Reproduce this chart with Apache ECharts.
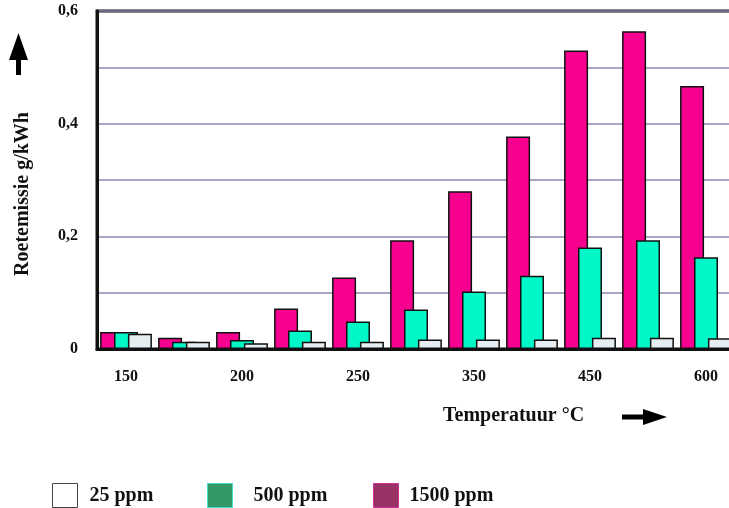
<!DOCTYPE html>
<html>
<head>
<meta charset="utf-8">
<script src="https://cdn.jsdelivr.net/npm/echarts@6/dist/echarts.min.js"></script>
<style>html,body{margin:0;padding:0;background:#fff}#c{width:729px;height:508px}</style>
</head>
<body>
<div id="c"></div>
<script>
// Data
const categories = ['150', '', '200', '', '250', '', '350', '', '450', '', '600'];
const ppm1500 = [0.030, 0.020, 0.030, 0.072, 0.127, 0.193, 0.280, 0.377, 0.530, 0.564, 0.467];
const ppm500  = [0.030, 0.013, 0.016, 0.033, 0.049, 0.070, 0.102, 0.130, 0.180, 0.193, 0.163];
const ppm25   = [0.027, 0.013, 0.010, 0.013, 0.013, 0.017, 0.017, 0.017, 0.020, 0.020, 0.019];
const yTickLabels = {0: '0', 2: '0,2', 4: '0,4', 6: '0,6'};

const serif = '"Liberation Serif", "Times New Roman", serif';
const chart = echarts.init(document.getElementById('c'), null, {renderer: 'canvas'});

const barBorder = {borderColor: '#111', borderWidth: 1.5};
function legendFor(name, left, padLeft, itemStyle) {
  return {
    left: left, top: 483, orient: 'horizontal', padding: 0,
    itemWidth: 25, itemHeight: 24, icon: 'rect',
    selectedMode: false,
    data: [{name: name, itemStyle: itemStyle}],
    textStyle: {fontFamily: serif, fontWeight: 'bold', fontSize: 20, color: '#111', padding: [9, 0, 0, padLeft]}
  };
}

chart.setOption({
  animation: false,
  backgroundColor: '#fff',
  grid: {left: 97, width: 638, top: 11, bottom: 159, outerBoundsMode: 'none', containLabel: false,
         show: true, borderColor: '#111', borderWidth: 3, backgroundColor: 'transparent'},
  legend: [
    legendFor('25 ppm', 52, 7, {color: '#ffffff', borderColor: '#444', borderWidth: 1}),
    legendFor('500 ppm', 207, 16, {color: '#339966', borderColor: '#44ddcc', borderWidth: 1}),
    legendFor('1500 ppm', 373, 6, {color: '#993366', borderColor: '#cc3399', borderWidth: 1})
  ],
  xAxis: {
    type: 'category',
    data: categories,
    axisLine: {show: true, lineStyle: {color: '#111', width: 3}},
    axisTick: {show: false},
    axisLabel: {interval: 0, margin: 20, fontFamily: serif, fontWeight: 'bold', fontSize: 16, color: '#111'},
    splitLine: {show: false}
  },
  yAxis: {
    type: 'value', min: 0, max: 0.6, interval: 0.1,
    axisLine: {show: true, lineStyle: {color: '#111', width: 3}},
    axisTick: {show: false},
    axisLabel: {
      margin: 19, fontFamily: serif, fontWeight: 'bold', fontSize: 16, color: '#111',
      formatter: function (v) { const k = Math.round(v * 10); return yTickLabels[k] !== undefined ? yTickLabels[k] : ''; }
    },
    splitLine: {show: true, lineStyle: {color: '#8a8ab0', width: 1.5}}
  },
  series: [
    {name: '1500 ppm', type: 'bar', data: ppm1500, barWidth: 24, barGap: '-42%',
     itemStyle: Object.assign({color: '#f8008f'}, barBorder)},
    {name: '500 ppm', type: 'bar', data: ppm500, barWidth: 24, barGap: '-42%',
     itemStyle: Object.assign({color: '#00f7c8'}, barBorder)},
    {name: '25 ppm', type: 'bar', data: ppm25, barWidth: 24, barGap: '-42%',
     itemStyle: Object.assign({color: '#e6edf0'}, barBorder)}
  ],
  graphic: [
    {type: 'text', x: 23, y: 194, rotation: Math.PI / 2,
     style: {text: 'Roetemissie g/kWh', fontFamily: serif, fontWeight: 'bold', fontSize: 20, fill: '#111', align: 'center', verticalAlign: 'middle'}},
    {type: 'text', x: 443, y: 416,
     style: {text: 'Temperatuur °C', fontFamily: serif, fontWeight: 'bold', fontSize: 20, fill: '#111', align: 'left', verticalAlign: 'middle'}},
    {type: 'polygon', shape: {points: [[18.5, 33], [28, 60], [21, 60], [21, 75], [16, 75], [16, 60], [9, 60]]}, style: {fill: '#000'}},
    {type: 'polygon', shape: {points: [[622, 414.5], [643, 414.5], [643, 409], [667, 417], [643, 425], [643, 419.5], [622, 419.5]]}, style: {fill: '#000'}}
  ]
});
</script>
</body>
</html>
